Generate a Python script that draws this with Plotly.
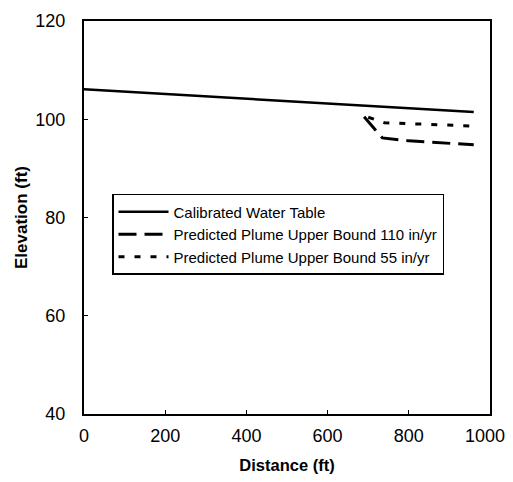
import plotly.graph_objects as go

# Data
wt_x = [0, 960]
wt_y = [106.1, 101.5]
p110_x = [690, 735, 800, 960]
p110_y = [100.5, 96.2, 95.6, 94.8]
p55_x = [700, 740, 960]
p55_y = [100.4, 99.3, 98.6]

x_ticks = [0, 200, 400, 600, 800, 1000]
x_tick_labels = ["0", "200", "400", "600", "800", "1000\u00a0\u00a0"]
y_ticks = [40, 60, 80, 100, 120]

FONT = "Liberation Sans, Arial"

fig = go.Figure()
fig.add_trace(go.Scatter(x=wt_x, y=wt_y, mode="lines", name="Calibrated Water Table",
                         line=dict(color="black", width=2.5)))
fig.add_trace(go.Scatter(x=p110_x, y=p110_y, mode="lines", name="Predicted Plume Upper Bound 110 in/yr",
                         line=dict(color="black", width=3, dash="18px,8px")))
fig.add_trace(go.Scatter(x=p55_x, y=p55_y, mode="lines", name="Predicted Plume Upper Bound 55 in/yr",
                         line=dict(color="black", width=3, dash="6px,10px")))

axis_common = dict(showgrid=False, zeroline=False, showline=True, linecolor="black", linewidth=2,
                   mirror=True, ticks="inside", ticklen=4, tickcolor="black", automargin=False,
                   ticklabeloverflow="allow",
                   tickfont=dict(family=FONT, size=18, color="black"))

fig.update_xaxes(range=[0, 1000], tickvals=x_ticks, ticktext=x_tick_labels,
                 ticklabelstandoff=4,
                 title=dict(text="<b>Distance (ft)</b>", font=dict(family=FONT, size=16.5, color="black"),
                            standoff=17),
                 **axis_common)
fig.update_yaxes(range=[40, 120], tickvals=y_ticks, ticktext=[str(v) for v in y_ticks],
                 ticklabelstandoff=13,
                 title=dict(text="<b>Elevation (ft)</b>", font=dict(family=FONT, size=17, color="black"),
                            standoff=3),
                 **axis_common)

# page body has an 8px margin: figure is offset by (8, 8) in the window
fig.update_layout(
    width=505, height=466,
    margin=dict(l=76, r=23, t=13, b=60),
    plot_bgcolor="white", paper_bgcolor="white",
    showlegend=True,
    legend=dict(x=0.069, y=0.56, xanchor="left", yanchor="top",
                bordercolor="black", borderwidth=1.5, bgcolor="white",
                font=dict(family=FONT, size=15, color="black"),
                itemwidth=50, tracegroupgap=0),
)

fig.write_html("out.html")
